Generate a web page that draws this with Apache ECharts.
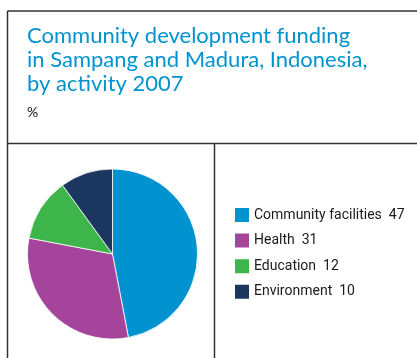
<!DOCTYPE html>
<html>
<head>
<meta charset="utf-8">
<script src="https://cdn.jsdelivr.net/npm/echarts@6/dist/echarts.min.js"></script>
<style>
  html, body { margin: 0; padding: 0; background: #fff; }
  #chart { width: 417px; height: 358px; }
</style>
</head>
<body>
<div id="chart"></div>
<script>
// Funding shares by activity (%)
const categories = ['Community facilities', 'Health', 'Education', 'Environment'];
const shares = [47, 31, 12, 10];
const colors = ['#0093d0', '#a4449a', '#3db54a', '#1b365f'];

const titleLines = [
  'Community development funding',
  'in Sampang and Madura, Indonesia,',
  'by activity 2007'
];
const unitLabel = '%';

const chart = echarts.init(document.getElementById('chart'), null, { renderer: 'canvas' });

const lineStyle = { stroke: '#333', lineWidth: 1.5 };

chart.setOption({
  animation: false,
  title: {
    text: titleLines.join('\n'),
    left: 22,
    top: 19,
    textStyle: {
      color: '#0093d0',
      fontFamily: 'Lato',
      fontWeight: 'normal',
      fontSize: 22,
      lineHeight: 24
    },
    subtext: unitLabel,
    itemGap: 9,
    subtextStyle: {
      color: '#111',
      fontFamily: 'Lato',
      fontSize: 14
    }
  },
  legend: {
    orient: 'vertical',
    left: 228,
    top: 201,
    itemWidth: 16,
    itemHeight: 16,
    itemGap: 7.6,
    icon: 'rect',
    data: categories,
    formatter: function (name) {
      return name + '  ' + shares[categories.indexOf(name)];
    },
    textStyle: {
      color: '#1a1a1a',
      fontFamily: 'Roboto',
      fontSize: 14,
      lineHeight: 16,
      padding: [0, 0, 0, -1]
    }
  },
  series: [{
    type: 'pie',
    center: [112.5, 254],
    radius: 85,
    startAngle: 90,
    clockwise: true,
    label: { show: false },
    labelLine: { show: false },
    itemStyle: { borderColor: '#fff', borderWidth: 0.8 },
    emphasis: { disabled: true },
    data: categories.map((c, i) => ({
      name: c,
      value: shares[i],
      itemStyle: { color: colors[i] }
    }))
  }],
  graphic: [
    { type: 'line', shape: { x1: 7.5, y1: 11, x2: 417, y2: 11 }, style: lineStyle, silent: true },
    { type: 'line', shape: { x1: 7.5, y1: 11, x2: 7.5, y2: 358 }, style: lineStyle, silent: true },
    { type: 'line', shape: { x1: 7.5, y1: 143.5, x2: 417, y2: 143.5 }, style: lineStyle, silent: true },
    { type: 'line', shape: { x1: 214.5, y1: 143.5, x2: 214.5, y2: 358 }, style: lineStyle, silent: true }
  ]
});
</script>
</body>
</html>
